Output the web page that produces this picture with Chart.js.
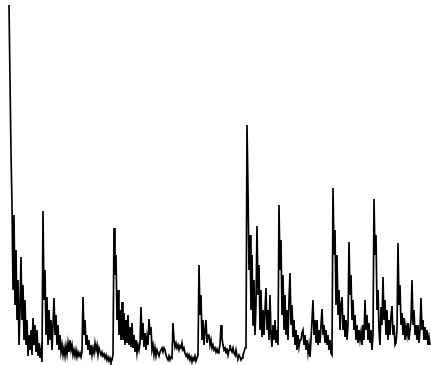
<!DOCTYPE html>
<html>
<head>
<meta charset="utf-8">
<script src="https://cdn.jsdelivr.net/npm/chart.js@4/dist/chart.umd.min.js"></script>
<style>
  body { margin: 0; background: #fff; }
  #wrap { width: 431px; height: 365px; }
</style>
</head>
<body>
<div id="wrap"><canvas id="trace" width="431" height="365"></canvas></div>
<script>
// first sample number on the time axis
const firstSample = 9;

// quiet stretch (samples 9..246)
const quietRun = [
  360,285,212,160,75,150,60,115,45,85,
  20,55,108,45,80,25,65,20,45,9,
  30,15,35,10,47,20,40,13,35,9,
  22,7,15,3,154,65,95,30,68,20,
  55,25,45,15,40,67,30,50,20,40,
  15,30,13,20,10,17,9,19,11,22,
  13,25,15,20,10,15,9,15,8,13,
  9,12,8,13,68,30,45,20,30,15,
  25,10,20,10,17,12,22,15,20,10,
  17,13,10,13,9,11,7,10,5,8,
  4,7,3,5,10,137,90,110,45,75,
  30,55,25,63,25,52,20,45,22,50,
  20,38,18,42,17,30,13,25,12,20,
  15,22,58,25,42,18,32,15,28,20,
  46,30,38,15,20,10,17,9,15,12,
  9,13,15,17,13,17,15,10,7,5,
  9,5,8,7,42,25,18,22,17,20,
  15,19,17,22,15,17,12,9,11,7,
  10,5,8,3,7,5,9,4,7,10,
  100,50,70,25,45,20,35,45,22,30,
  30,20,25,17,20,15,17,13,16,12,
  15,20,40,27,20,15,17,12,17,10,
  15,20,15,13,17,12,10,15,9,7,
  10,8,5,7,10,13,17,18
];

// active stretch (samples 247..430)
const activeRun = [
  240,175,95,130,55,110,40,85,30,60,
  139,70,100,35,75,28,55,30,55,77,
  35,55,25,70,30,18,40,25,45,22,
  35,20,160,95,125,50,90,35,70,30,
  55,25,65,92,40,60,28,45,20,35,
  15,30,18,25,25,32,35,20,30,15,
  25,12,20,8,25,45,65,30,45,22,
  45,20,35,22,40,56,30,40,22,35,
  20,30,15,25,12,10,177,110,135,60,
  110,50,75,35,60,68,35,50,28,45,
  25,40,123,70,90,45,65,35,50,25,
  40,22,35,25,33,20,40,25,65,35,
  50,25,42,22,35,15,30,166,110,130,
  55,75,35,20,58,40,88,45,65,30,
  55,25,45,30,50,59,30,40,20,22,
  35,122,60,80,40,52,30,47,25,38,
  30,42,25,35,45,85,40,55,30,40,
  25,40,22,35,67,35,45,25,38,25,
  35,20,28,20
];

const signal = quietRun.concat(activeRun);
const points = signal.map((v, i) => ({ x: firstSample + i, y: v }));

const ctx = document.getElementById('trace').getContext('2d');
const trace = new Chart(ctx, {
  type: 'line',
  data: {
    datasets: [{
      data: points,
      borderColor: '#000',
      borderWidth: 1.7,
      pointRadius: 0,
      tension: 0,
      fill: false,
      clip: false
    }]
  },
  options: {
    responsive: false,
    animation: false,
    layout: { padding: 0 },
    plugins: { legend: { display: false }, tooltip: { enabled: false } },
    scales: {
      x: { type: 'linear', display: false, min: 0, max: 431 },
      y: { display: false, min: 0, max: 365 }
    }
  }
});
</script>
</body>
</html>
